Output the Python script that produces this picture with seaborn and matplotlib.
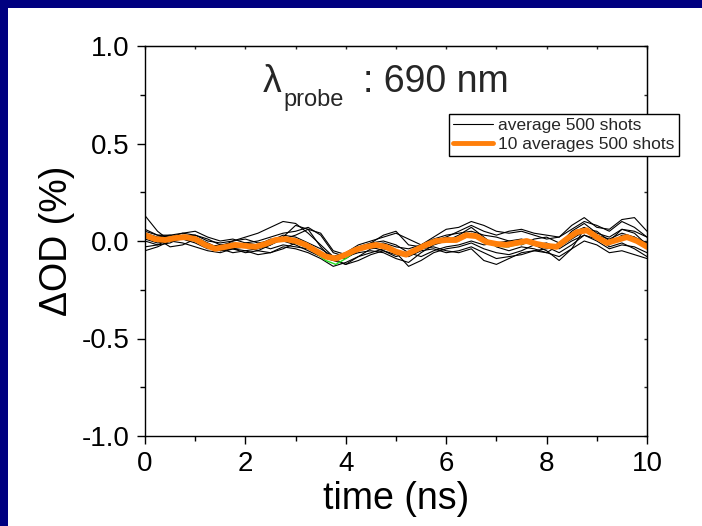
import numpy as np
import pandas as pd
import matplotlib
matplotlib.use("Agg")
import matplotlib.pyplot as plt
from matplotlib.lines import Line2D
from matplotlib.patches import Rectangle
import seaborn as sns

# ---------------- data ----------------
t_traces = [i * 0.25 for i in range(41)]
trace_1 = [0.13, 0.05, 0.0, 0.01, 0.0, -0.03, -0.05, -0.04, -0.06, -0.05, -0.02, 0.02, 0.08, 0.06, -0.03, -0.10, -0.08, -0.06, -0.05, -0.06, -0.09, -0.11, -0.06, -0.02, 0.0, 0.03, 0.07, 0.02, -0.03, -0.05, -0.03, -0.04, -0.06, -0.02, 0.05, 0.09, 0.04, 0.02, 0.06, 0.05, 0.02]
trace_2 = [0.05, 0.03, 0.03, 0.04, 0.03, 0.0, -0.01, 0.0, 0.02, 0.04, 0.07, 0.10, 0.09, 0.04, -0.02, -0.08, -0.06, -0.02, 0.0, 0.02, 0.04, 0.01, -0.02, 0.02, 0.06, 0.07, 0.10, 0.08, 0.05, 0.04, 0.05, 0.03, 0.01, 0.02, 0.08, 0.12, 0.07, 0.06, 0.11, 0.12, 0.05]
trace_3 = [0.0, -0.02, -0.01, 0.02, 0.03, 0.01, -0.02, -0.04, -0.05, -0.04, -0.02, 0.01, 0.03, 0.06, 0.04, -0.05, -0.07, -0.03, -0.01, 0.0, -0.02, -0.06, -0.08, -0.05, -0.03, -0.02, 0.0, -0.02, -0.01, 0.0, 0.01, -0.01, -0.03, -0.06, -0.02, 0.03, 0.0, -0.04, -0.02, -0.03, -0.06]
trace_4 = [-0.03, -0.02, 0.01, 0.03, 0.02, -0.01, -0.04, -0.06, -0.05, -0.07, -0.06, -0.03, -0.04, -0.06, -0.09, -0.13, -0.11, -0.08, -0.06, -0.04, -0.05, -0.07, -0.04, -0.03, -0.05, -0.06, -0.04, -0.10, -0.12, -0.09, -0.06, -0.05, -0.06, -0.08, -0.04, 0.0, -0.02, -0.06, -0.05, -0.07, -0.09]
trace_5 = [0.02, 0.01, -0.03, -0.02, 0.01, -0.02, -0.05, -0.03, -0.01, -0.02, -0.04, -0.02, -0.03, -0.04, -0.07, -0.10, -0.12, -0.08, -0.04, -0.03, -0.06, -0.13, -0.10, -0.06, -0.04, -0.03, -0.01, -0.04, -0.06, -0.07, -0.05, -0.02, -0.01, -0.04, 0.0, 0.03, 0.01, -0.02, 0.03, 0.02, -0.04]
trace_6 = [0.04, 0.02, 0.03, 0.01, -0.01, -0.04, -0.03, 0.0, 0.01, -0.01, 0.0, 0.03, 0.02, -0.01, -0.04, -0.08, -0.09, -0.05, -0.03, -0.05, -0.08, -0.06, -0.02, 0.01, 0.03, 0.04, 0.05, 0.03, 0.02, 0.0, -0.02, 0.01, 0.02, -0.01, 0.04, 0.07, 0.03, 0.01, 0.04, 0.02, -0.01]
trace_7 = [0.01, -0.01, 0.0, -0.01, -0.03, -0.05, -0.06, -0.04, -0.03, -0.05, -0.06, -0.04, -0.01, -0.03, -0.06, -0.09, -0.12, -0.10, -0.07, -0.05, -0.07, -0.08, -0.05, -0.04, -0.06, -0.05, -0.03, -0.06, -0.09, -0.08, -0.07, -0.05, -0.04, -0.03, 0.01, 0.05, 0.02, -0.03, -0.01, -0.04, -0.08]
trace_8 = [-0.05, -0.03, 0.0, 0.02, 0.0, -0.03, -0.02, -0.01, -0.03, -0.02, 0.01, 0.0, -0.02, -0.05, -0.08, -0.10, -0.07, -0.04, -0.02, -0.01, -0.03, -0.04, -0.02, 0.0, 0.02, 0.0, 0.04, 0.01, -0.02, -0.03, 0.0, -0.02, -0.05, -0.10, -0.04, 0.06, 0.05, 0.0, 0.06, 0.04, -0.02]
trace_9 = [0.06, 0.03, 0.02, 0.04, 0.05, 0.02, 0.0, 0.01, -0.01, 0.0, 0.02, 0.04, 0.05, 0.07, 0.03, -0.06, -0.08, -0.05, -0.01, 0.03, 0.05, -0.02, -0.03, -0.01, 0.02, 0.05, 0.08, 0.05, 0.03, 0.05, 0.06, 0.04, 0.03, 0.02, 0.06, 0.10, 0.08, 0.05, 0.10, 0.07, 0.02]
black_traces = [trace_1, trace_2, trace_3, trace_4, trace_5, trace_6, trace_7, trace_8, trace_9]

t_avg = [i * 0.2 for i in range(51)]
orange_avg = [0.03, 0.01, 0.005, 0.015, 0.02, 0.01, -0.02, -0.04, -0.03, -0.02,
              -0.025, -0.03, -0.015, 0.005, 0.01, 0.0, -0.02, -0.05, -0.08, -0.09,
              -0.07, -0.045, -0.03, -0.02, -0.03, -0.055, -0.07, -0.045, -0.02, 0.0,
              0.005, 0.005, 0.03, 0.025, -0.005, -0.015, -0.02, -0.01, 0.0, -0.015,
              -0.025, -0.03, 0.01, 0.045, 0.055, 0.02, -0.01, 0.005, 0.02, 0.0, -0.03]
green_avg = [0.03, 0.01, 0.0, 0.015, 0.02, 0.005, -0.025, -0.045, -0.035, -0.025,
             -0.02, -0.025, -0.01, 0.0, 0.005, -0.01, -0.03, -0.06, -0.1, -0.12,
             -0.09, -0.05, -0.03, -0.02, -0.035, -0.06, -0.075, -0.05, -0.025, -0.005,
             0.0, 0.0, 0.02, 0.02, -0.01, -0.025, -0.03, -0.02, -0.01, -0.02,
             -0.03, -0.035, 0.0, 0.04, 0.05, 0.015, -0.015, 0.0, 0.015, -0.005, -0.035]

xticks = [0, 2, 4, 6, 8, 10]
yticks = [-1.0, -0.5, 0.0, 0.5, 1.0]
ytick_labels = ["-1.0", "-0.5", "0.0", "0.5", "1.0"]

# ---------------- figure ----------------
sns.set_style("ticks")
plt.rcParams["font.family"] = ["Liberation Sans", "DejaVu Sans"]

W, H = 702, 526
fig = plt.figure(figsize=(W / 100, H / 100), dpi=100)
fig.patch.set_facecolor("white")
ax = fig.add_axes([145 / W, 1 - 436 / H, (647 - 145) / W, (436 - 46) / H])

rows = []
for k, tr in enumerate(black_traces):
    for tt, v in zip(t_traces, tr):
        rows.append({"time": tt, "dOD": v, "trace": k})
df = pd.DataFrame(rows)
sns.lineplot(data=df, x="time", y="dOD", units="trace", estimator=None,
             color="black", lw=0.8, ax=ax, legend=False)
sns.lineplot(x=t_avg, y=green_avg, color="#22dd22", lw=1.0, ax=ax, legend=False)
sns.lineplot(x=t_avg, y=orange_avg, color="#ff7f0a", lw=4.2, ax=ax, legend=False)

ax.set_xlim(0, 10)
ax.set_ylim(-1.0, 1.0)
ax.set_xticks(xticks)
ax.set_xticklabels([str(x) for x in xticks])
ax.set_yticks(yticks)
ax.set_yticklabels(ytick_labels)
ax.set_xticks(np.arange(1, 10, 2), minor=True)
ax.set_yticks([-0.75, -0.25, 0.25, 0.75], minor=True)
ax.tick_params(which="major", direction="out", length=6, width=1, labelsize=20,
               pad=5, color="black", labelcolor="black")
ax.tick_params(which="minor", direction="out", length=3.5, width=1, color="black")
for s in ax.spines.values():
    s.set_visible(True)
    s.set_linewidth(1.0)
    s.set_color("black")

# inward ticks on top and right
sec_x = ax.secondary_xaxis("top")
sec_x.set_xticks(np.arange(0, 11, 1))
sec_x.tick_params(direction="in", length=2.5, width=1, labeltop=False)
sec_x.set_xticklabels([])
sec_y = ax.secondary_yaxis("right")
sec_y.set_yticks(np.arange(-1.0, 1.01, 0.25))
sec_y.tick_params(direction="in", length=2.5, width=1, labelright=False)
sec_y.set_yticklabels([])

ax.set_xlabel("time (ns)", fontsize=27, labelpad=3, color="black")
ax.set_ylabel("ΔOD (%)", fontsize=27, labelpad=5, color="black")

# in-plot annotation
fig.text(263 / W, 1 - 92 / H, "λ", fontsize=27, va="baseline", ha="left")
fig.text(283 / W, 1 - 106 / H, "probe", fontsize=17, va="baseline", ha="left")
fig.text(363 / W, 1 - 92 / H, ": 690 nm", fontsize=27, va="baseline", ha="left")

handles = [Line2D([], [], color="black", lw=0.8),
           Line2D([], [], color="#ff7f0a", lw=3.5)]
leg = ax.legend(handles, ["average 500 shots", "10 averages 500 shots"],
                loc="upper right", bbox_to_anchor=(679 / W, 1 - 114 / H),
                bbox_transform=fig.transFigure, fontsize=12.5, frameon=True,
                fancybox=False, framealpha=1, edgecolor="black",
                handlelength=2.3, handletextpad=0.3, borderpad=0.25,
                labelspacing=0.2, borderaxespad=0)
leg.get_frame().set_linewidth(1.0)
leg.set_zorder(10)

# blue border (top and left)
fig.patches.append(Rectangle((0, 1 - 8 / H), 1, 8 / H, transform=fig.transFigure,
                             facecolor="#000080", edgecolor="none", zorder=0))
fig.patches.append(Rectangle((0, 0), 8 / W, 1, transform=fig.transFigure,
                             facecolor="#000080", edgecolor="none", zorder=0))

fig.savefig("out.png", dpi=100)
